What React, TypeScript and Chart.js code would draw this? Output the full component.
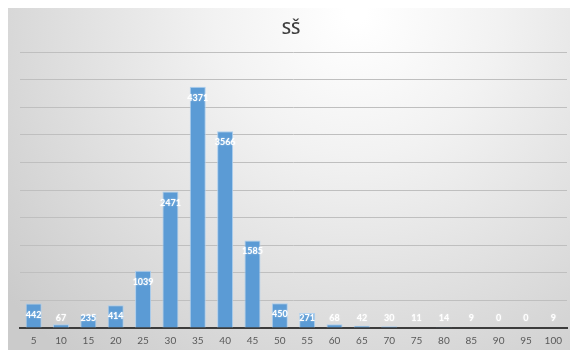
import React, { useEffect, useRef } from "react";
import { Chart, registerables } from "chart.js";

Chart.register(...registerables);

const categories = ["5", "10", "15", "20", "25", "30", "35", "40", "45", "50", "55", "60", "65", "70", "75", "80", "85", "90", "95", "100"];
const counts = [442, 67, 235, 414, 1039, 2471, 4371, 3566, 1585, 450, 271, 68, 42, 30, 11, 14, 9, 0, 0, 9];
const chartTitle = "SŠ";

const FONT = "Lato, 'Open Sans', sans-serif";

// Soft radial background, bright near the top centre, greyer toward the edges
const backgroundPlugin = {
  id: "bgGradient",
  beforeDraw(chart: any) {
    const { ctx, width, height } = chart;
    ctx.save();
    const g = ctx.createRadialGradient(width * 0.62, 5, 10, width * 0.62, 5, width * 0.8);
    g.addColorStop(0, "#ffffff");
    g.addColorStop(0.3, "#f2f2f2");
    g.addColorStop(1, "#cbcbcb");
    ctx.fillStyle = g;
    ctx.fillRect(0, 0, width, height);
    ctx.restore();
  },
};

const titlePlugin = {
  id: "centerTitle",
  afterDraw(chart: any) {
    const { ctx, width } = chart;
    ctx.save();
    ctx.fillStyle = "#3f3f3f";
    ctx.font = `600 17px 'Open Sans', sans-serif`;
    ctx.textAlign = "center";
    ctx.textBaseline = "middle";
    ctx.fillText(chartTitle, width / 2 + 2, 21);
    ctx.restore();
  },
};

// White value labels just inside the top of each bar
const valueLabelPlugin = {
  id: "valueLabels",
  afterDatasetsDraw(chart: any) {
    const { ctx } = chart;
    const meta = chart.getDatasetMeta(0);
    const base = chart.scales.y.getPixelForValue(0);
    ctx.save();
    ctx.font = `bold 9px ${FONT}`;
    ctx.fillStyle = "#ffffff";
    ctx.textAlign = "center";
    ctx.textBaseline = "middle";
    ctx.shadowColor = "rgba(255,255,255,0.6)";
    ctx.shadowBlur = 2;
    meta.data.forEach((bar: any, i: number) => {
      const y = Math.min(bar.y + 11, base - 10);
      ctx.fillText(String(counts[i]), bar.x, y);
    });
    ctx.restore();
  },
};

export default function App() {
  const canvasRef = useRef<HTMLCanvasElement | null>(null);

  useEffect(() => {
    if (!canvasRef.current) return;
    const chart = new Chart(canvasRef.current, {
      type: "bar",
      data: {
        labels: categories,
        datasets: [
          {
            data: counts,
            backgroundColor: "#5b9bd5",
            borderColor: "rgba(170,205,238,0.95)",
            borderWidth: 1,
            categoryPercentage: 1,
            barPercentage: 0.585,
          },
        ],
      },
      options: {
        animation: false,
        responsive: false,
        maintainAspectRatio: false,
        layout: { padding: { left: 12, right: 3, top: 44, bottom: 0 } },
        plugins: {
          legend: { display: false },
          title: { display: false },
          tooltip: { enabled: false },
        },
        scales: {
          x: {
            grid: { display: false, drawTicks: false },
            border: { display: true, color: "#3c3c3c", width: 2 },
            ticks: {
              color: "#595959",
              font: { family: FONT, size: 10 },
              padding: 7,
              maxRotation: 0,
              autoSkip: false,
            },
            afterFit(scale: any) {
              scale.height = 22;
            },
          },
          y: {
            min: 0,
            max: 5000,
            ticks: { display: false, stepSize: 500 },
            grid: { color: "#bfbfbf", lineWidth: 1, drawTicks: false },
            border: { display: false },
            afterFit(scale: any) {
              scale.width = 0;
            },
          },
        },
      },
      plugins: [backgroundPlugin, titlePlugin, valueLabelPlugin],
    });
    return () => chart.destroy();
  }, []);

  return (
    <div style={{ position: "fixed", left: 8, top: 8, width: 562, height: 342 }}>
      <canvas ref={canvasRef} width={562} height={342} style={{ display: "block" }} />
    </div>
  );
}
